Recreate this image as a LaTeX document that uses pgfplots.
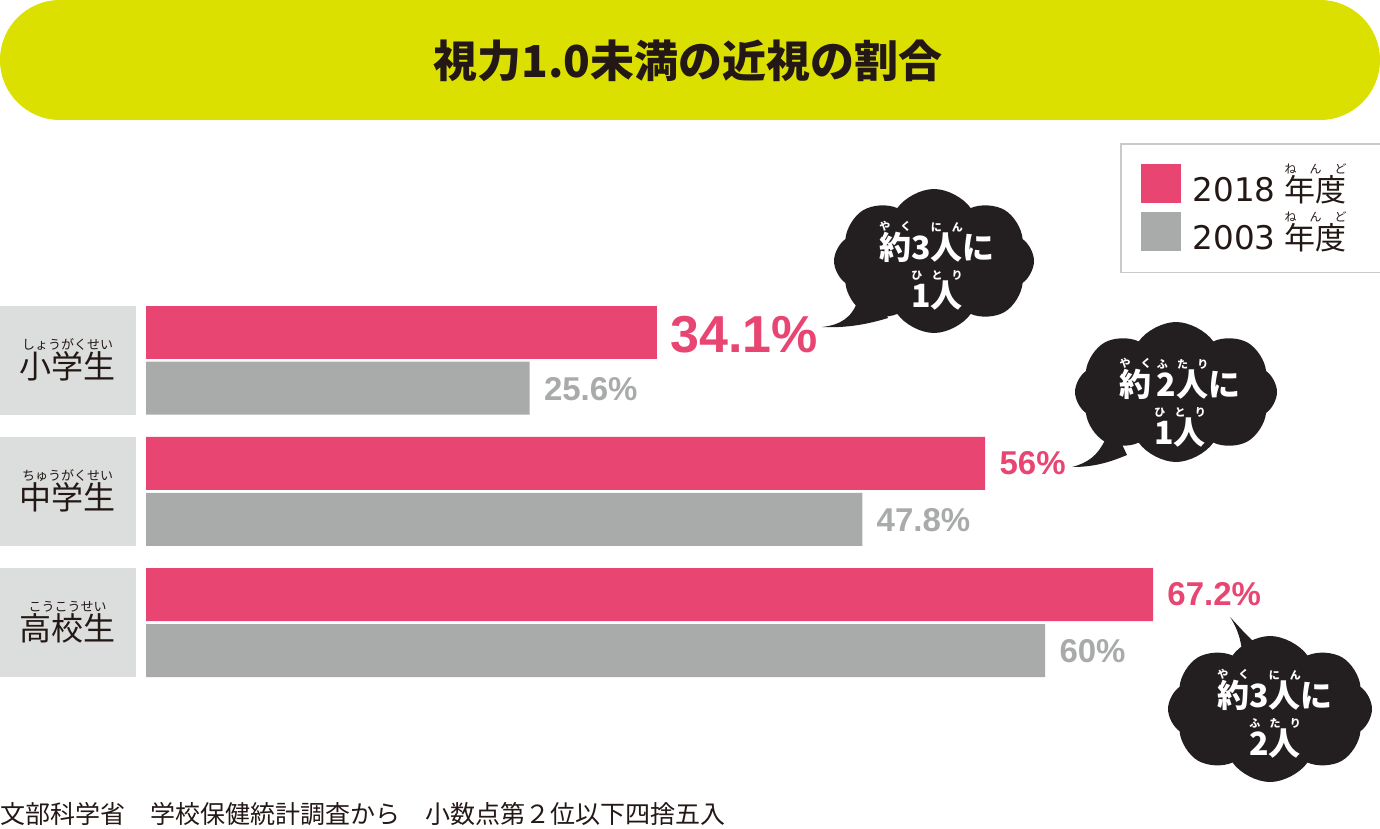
\documentclass[border=0pt]{standalone}
\usepackage{pgfplots}
\pgfplotsset{compat=1.18}
\usetikzlibrary{shapes.symbols}
\usepackage{fontspec}
\setmainfont{Liberation Sans}
\newfontfamily\jp{Noto Sans CJK JP}
\newfontfamily\dv{DejaVu Sans}
\definecolor{pinkc}{HTML}{E84572}
\definecolor{grayc}{HTML}{A9AAAA}
\definecolor{labbg}{HTML}{DCDDDD}
\definecolor{titlebg}{HTML}{DCE000}
\definecolor{cloudc}{HTML}{231F20}
\definecolor{textdark}{HTML}{231815}
\definecolor{legbord}{HTML}{C9CACA}
\newlength\rubygap \setlength\rubygap{1pt}
\newcommand\ruby[3][6]{\leavevmode\begingroup
  \setbox0\hbox{#2}%
  \setbox2\hbox to \wd0{\hss\fontsize{#1}{#1}\selectfont #3\hss}%
  \hbox{\rlap{\raise\dimexpr\ht0+\rubygap\relax\box2}\box0}%
  \endgroup}
\begin{document}
\begin{tikzpicture}[x=0.5pt,y=-0.5pt]
\useasboundingbox (0,0) rectangle (1380,829);
% title banner
\fill[titlebg, rounded corners=30pt] (0,0) rectangle (1380,120);
\node[text=textdark, font=\jp\bfseries\fontsize{22}{22}\selectfont] at (688,61) {視力1.0未満の近視の割合};
\begin{axis}[
  at={(73pt,0pt)}, anchor=north west,
  scale only axis, width=617pt, height=414.5pt,
  xmin=0, xmax=82.349, ymin=-1.5733, ymax=4.7429,
  axis lines*=left, axis line style={draw=none},
  xtick=\empty, ytick={0,1,2},
  yticklabels={{\ruby[6.5]{高校生}{こうこうせい}},{\ruby[6.5]{中学生}{ちゅうがくせい}},{\ruby[6.5]{小学生}{しょうがくせい}}},
  major tick length=0pt,
  yticklabel style={font=\jp\fontsize{16}{16}\selectfont, text=textdark, fill=labbg,
     minimum width=68pt, minimum height=54.5pt, inner sep=0pt, anchor=east, xshift=-5pt},
  clip=false,
  point meta=x,
  legend style={at={(axis description cs:0.7893,0.8275)}, anchor=north west,
     draw=legbord, line width=0.75pt, fill=white, inner xsep=10pt, inner ysep=9pt,
     row sep=1.5pt, font=\jp\fontsize{15.5}{15.5}\selectfont, text=textdark,
     nodes={inner sep=1pt},
     /tikz/every odd column/.append style={column sep=5pt}},
  legend cell align=left,
  legend image code/.code={\fill[#1] (0pt,-9.5pt) rectangle (20pt,10pt);},
]
\addplot[xbar, bar width=0.4038, bar shift=0.2133, fill=pinkc, draw=none,
  nodes near coords={\pgfmathprintnumber[fixed,precision=1,assume math mode=true]{\pgfplotspointmeta}\%},
  every node near coord/.append style={font=\bfseries\fontsize{26}{26}\selectfont, text=pinkc, anchor=west, inner sep=0pt, xshift=6.5pt, yshift=12.5pt}]
  coordinates {(34.1,2)};
\addlegendentry{{\dv\fontsize{16.3}{16.3}\selectfont 2018}\hspace{1pt} \ruby{年度}{ね\hfill ん\hfill ど}\hspace*{10pt}}
\addplot[xbar, bar width=0.4038, bar shift=0.2133, fill=pinkc, draw=none, forget plot,
  nodes near coords={\pgfmathprintnumber[fixed,precision=1,assume math mode=true]{\pgfplotspointmeta}\%},
  every node near coord/.append style={font=\bfseries\fontsize{16.5}{16.5}\selectfont, text=pinkc, anchor=west, inner sep=0pt, xshift=7pt, yshift=14pt}]
  coordinates {(56,1) (67.2,0)};
\addplot[xbar, bar width=0.4038, bar shift=-0.2133, fill=grayc, draw=none,
  nodes near coords={\pgfmathprintnumber[fixed,precision=1,assume math mode=true]{\pgfplotspointmeta}\%},
  every node near coord/.append style={font=\bfseries\fontsize{16.5}{16.5}\selectfont, text=grayc, anchor=west, inner sep=0pt, xshift=7pt, yshift=-14.5pt}]
  coordinates {(25.6,2) (47.8,1) (60,0)};
\addlegendentry{{\dv\fontsize{16.3}{16.3}\selectfont 2003}\hspace{1pt} \ruby{年度}{ね\hfill ん\hfill ど}\hspace*{10pt}}
\end{axis}
% clouds
\fill[cloudc] (858,300) .. controls (852,318) and (840,325) .. (822,327) .. controls (845,328) and (865,325) .. (888,318) -- (880,300) -- cycle;
\node[cloud, cloud puffs=8, cloud puff arc=110, aspect=1.4, fill=cloudc, minimum width=100pt, minimum height=72pt, inner sep=0pt] at (934,261) {};
\node[text=white, align=center, font=\jp\bfseries\fontsize{16}{24}\selectfont] at (937,266) {\ruby[5.5]{約}{や\hfill く}3\ruby[5.5]{人}{に\hfill ん}に\\\ruby[5.5]{1人}{ひ\hfill と\hfill り}};
\fill[cloudc] (1105,440) .. controls (1098,455) and (1088,463) .. (1072,467) .. controls (1095,467) and (1110,462) .. (1127,455) -- (1120,440) -- cycle;
\node[cloud, cloud puffs=8, cloud puff arc=110, aspect=1.45, fill=cloudc, minimum width=101pt, minimum height=70pt, inner sep=0pt] at (1176,392) {};
\node[text=white, align=center, font=\jp\bfseries\fontsize{16}{24}\selectfont] at (1180,403) {\ruby[5.5]{約}{や\hfill く}\,\ruby[5.5]{2人}{ふ\hfill た\hfill り}に\\\ruby[5.5]{1人}{ひ\hfill と\hfill り}};
\fill[cloudc] (1230,617) .. controls (1244,632) and (1252,642) .. (1270,655) -- (1242,672) .. controls (1244,650) and (1240,632) .. (1230,617) -- cycle;
\node[cloud, cloud puffs=8, cloud puff arc=110, aspect=1.4, fill=cloudc, minimum width=102pt, minimum height=73pt, inner sep=0pt] at (1270,709) {};
\node[text=white, align=center, font=\jp\bfseries\fontsize{16}{24}\selectfont] at (1275,714) {\ruby[5.5]{約}{や\hfill く}3\ruby[5.5]{人}{に\hfill ん}に\\\ruby[5.5]{2人}{ふ\hfill た\hfill り}};
% footnote
\node[anchor=west, inner sep=0pt, text=textdark, font=\jp\fontsize{12.5}{12.5}\selectfont] at (0,814) {文部科学省　学校保健統計調査から　小数点第２位以下四捨五入};
\end{tikzpicture}
\end{document}
